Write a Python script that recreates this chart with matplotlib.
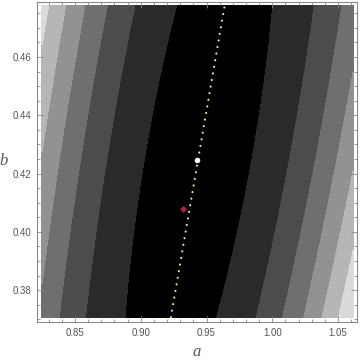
import numpy as np
import matplotlib
matplotlib.use("Agg")
import matplotlib.pyplot as plt
from matplotlib.ticker import MultipleLocator, FormatStrFormatter

# ---- data ----
a_range = [0.8248, 1.0615]          # plotted region in a
b_range = [0.3707, 0.4775]          # plotted region in b
valley_a = [0.9229, 0.9637]         # dotted valley line end points (a)
valley_b = [0.3707, 0.4775]         # dotted valley line end points (b)
best_point = (0.9431, 0.4246)       # white point
start_point = (0.9324, 0.4080)      # red point
# surface model parameters (read from contour band widths)
b_center = 0.424
a_scale = 0.0562
b_scale = 0.0534
b_curv = 0.128
slope_scale = 0.918
level_values = [0.534, 1.534, 2.534, 3.534, 4.534, 5.534]
band_grays = ["#000000", "#2a2a2a", "#4c4c4c", "#6f6f6f", "#929292", "#b6b6b6", "#dadada"]
x_ticks = [0.85, 0.90, 0.95, 1.00, 1.05]
y_ticks = [0.38, 0.40, 0.42, 0.44, 0.46]

fig = plt.figure(figsize=(3.6, 3.62), dpi=100)
ax = fig.add_axes([37/360, 40/362, 320/360, 320/362])

A, B = np.meshgrid(np.linspace(a_range[0], a_range[1], 500),
                   np.linspace(b_range[0], b_range[1], 500))
slope = (valley_a[1] - valley_a[0]) / (valley_b[1] - valley_b[0])
C = valley_a[0] + slope * (B - valley_b[0])
S = 1 - slope_scale * (B - b_center)
F = S * ((A - C) / a_scale) ** 2 + b_curv * ((B - b_center) / b_scale) ** 2

levels = [F.min() - 1] + level_values + [F.max() + 1]
cs = ax.contourf(A, B, F, levels=levels, colors=band_grays, antialiased=False)
cs.set_edgecolor("face")
cs.set_linewidth(0.3)

ax.plot(valley_a, valley_b, color="#dfe9a0", lw=1.6,
        linestyle=(0, (0.01, 3.0)), dash_capstyle="round")
ax.plot(*best_point, "o", color="white", ms=4, mec="none")
ax.plot(*start_point, "D", color="#b8203c", ms=3.5, mec="none")

ax.set_xlim(0.8211, 1.0644)
ax.set_ylim(0.36909, 0.47887)

ax.xaxis.set_minor_locator(MultipleLocator(0.01))
ax.yaxis.set_minor_locator(MultipleLocator(0.005))
ax.set_xticks(x_ticks)
ax.set_yticks(y_ticks)
ax.xaxis.set_major_formatter(FormatStrFormatter("%.2f"))
ax.yaxis.set_major_formatter(FormatStrFormatter("%.2f"))

for sp in ax.spines.values():
    sp.set_color("#8a8a8a")
    sp.set_linewidth(0.8)
ax.tick_params(which="both", direction="in", top=True, right=True, color="#8a8a8a", width=0.6)
ax.tick_params(which="major", length=4.5)
ax.tick_params(which="minor", length=2.5)
ax.tick_params(axis="both", labelsize=7, labelcolor="#555555", pad=4)
for lab in ax.get_xticklabels() + ax.get_yticklabels():
    lab.set_family("Liberation Sans")

fig.text(4/360, 1 - 161/362, "b", fontsize=12, style="italic", family="Liberation Serif",
         color="#555555", ha="center", va="center")
fig.text(197/360, 1 - 352/362, "a", fontsize=12, style="italic", family="Liberation Serif",
         color="#555555", ha="center", va="center")

fig.savefig("out.png", dpi=100)
